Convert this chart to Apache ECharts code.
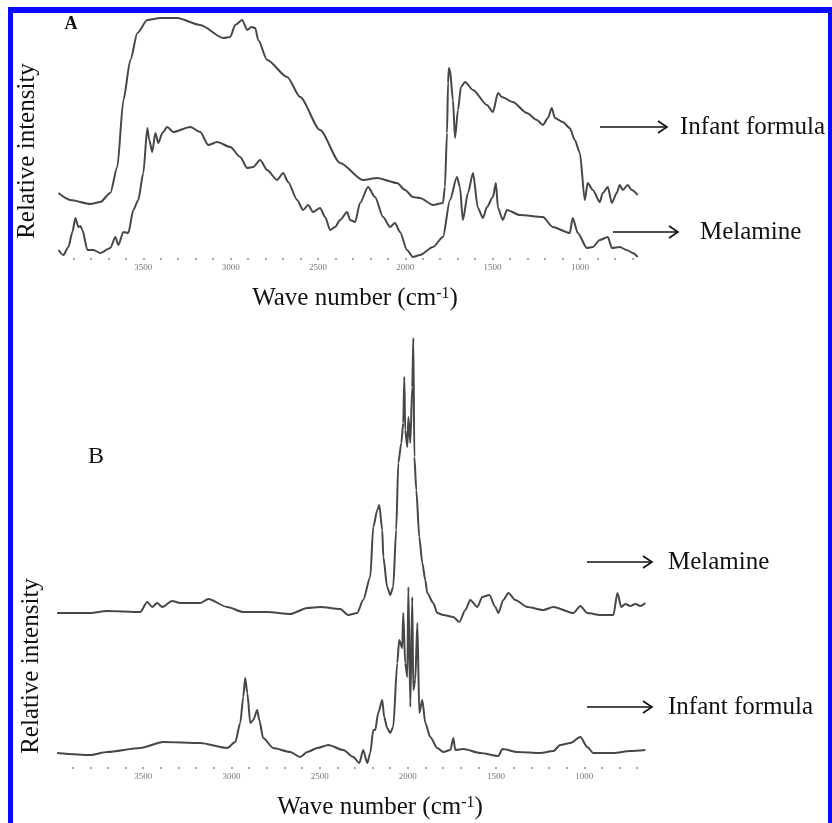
<!DOCTYPE html>
<html>
<head>
<meta charset="utf-8">
<script src="https://cdn.jsdelivr.net/npm/echarts@6/dist/echarts.min.js"></script>
<style>
html,body{margin:0;padding:0;background:#fff;}
#chart{width:832px;height:823px;}
</style>
</head>
<body>
<div id="chart"></div>
<script>
// ---- Data (wavenumber in cm-1, relative intensity in arbitrary units) ----
const tickLabelValues = [3500, 3000, 2500, 2000, 1500, 1000];
const tickDotValues = [3900,3800,3700,3600,3500,3400,3300,3200,3100,3000,2900,2800,2700,2600,2500,2400,2300,2200,2100,2000,1900,1800,1700,1600,1500,1400,1300,1200,1100,1000,900,800,700];

// Panel A – Infant formula
const aInfantX = [3986,3918,3803,3746,3689,3649,3614,3574,3534,3477,3403,3306,3174,3042,3002,2974,2934,2905,2882,2859,2842,2791,2676,2602,2488,2373,2242,2161,2047,2001,1956,1916,1841,1784,1773,1761,1755,1750,1744,1727,1715,1698,1681,1658,1612,1532,1498,1469,1447,1384,1304,1246,1212,1183,1161,1143,1098,1058,1029,1000,972,955,926,886,869,840,817,789,772,754,726,703,669];
const aInfantY = [65,58,54,56,65,91,158,198,225,238,240,240,233,220,221,233,238,228,231,230,218,198,181,161,128,95,78,80,75,68,61,60,53,55,71,125,175,190,188,158,120,148,171,176,168,153,146,165,161,156,145,138,133,140,150,140,136,130,118,105,58,75,68,56,65,71,55,65,73,68,73,68,63];

// Panel A – Melamine
const aMelX = [3986,3958,3929,3906,3889,3872,3860,3849,3820,3786,3746,3689,3660,3643,3614,3586,3557,3529,3500,3477,3466,3449,3431,3414,3391,3363,3328,3231,3174,3128,3077,3002,2945,2905,2871,2831,2791,2734,2699,2671,2619,2585,2556,2528,2488,2459,2430,2402,2373,2333,2316,2287,2259,2213,2173,2127,2087,2059,2030,1990,1956,1916,1841,1784,1744,1704,1687,1670,1641,1612,1584,1555,1532,1498,1481,1469,1441,1418,1344,1212,1155,1058,1041,1012,960,926,886,840,817,772,732,697,669];
const aMelY = [8,3,11,26,40,31,32,28,8,8,5,10,21,13,26,25,48,58,85,130,118,106,125,115,125,131,126,131,126,113,116,111,101,90,91,98,88,78,85,76,58,48,53,46,50,41,28,31,38,46,38,36,55,71,61,41,31,35,26,8,1,3,11,21,58,81,71,38,65,85,50,40,51,61,75,50,38,48,43,41,31,25,40,25,10,11,18,21,10,11,8,5,1];

// Panel B – Melamine
const bMelX = [3988,3801,3704,3517,3477,3449,3421,3392,3336,3290,3177,3131,3024,2933,2797,2667,2570,2496,2383,2338,2287,2253,2213,2196,2173,2162,2145,2139,2117,2100,2083,2066,2054,2037,2026,2020,2015,2003,1997,1986,1975,1969,1963,1952,1935,1918,1901,1890,1856,1833,1799,1742,1708,1674,1646,1606,1578,1538,1504,1487,1459,1430,1391,1323,1232,1175,1062,1022,983,909,835,812,790,767,739,710,682,654];
const bMelY = [154,154,156,155,165,160,164,160,166,164,164,168,160,155,155,153,159,160,158,152,154,167,190,240,257,262,237,210,180,172,180,237,304,324,344,390,337,320,350,324,380,429,310,277,230,204,187,174,164,154,152,150,145,157,167,160,170,172,160,154,167,174,167,160,157,160,154,161,154,152,152,174,160,163,161,163,161,164];

// Panel B – Infant formula
const bInfantX = [3988,3801,3704,3517,3387,3177,3024,2978,2950,2933,2922,2910,2893,2876,2854,2842,2820,2763,2667,2610,2570,2513,2451,2366,2309,2275,2253,2230,2213,2196,2185,2168,2145,2134,2117,2100,2083,2060,2049,2032,2026,2015,2003,1997,1986,1975,1969,1958,1946,1935,1918,1901,1873,1833,1799,1759,1742,1731,1686,1589,1487,1464,1379,1249,1175,1136,1079,1022,983,949,835,739,654];
const bInfantY = [14,12,15,19,25,24,19,25,44,70,89,74,44,47,57,47,29,19,15,10,15,19,22,17,10,4,17,4,14,37,37,54,67,50,39,34,40,104,127,119,154,104,90,180,60,170,77,87,144,54,67,44,30,19,15,17,29,17,18,14,11,18,15,14,16,22,24,30,20,14,14,16,17];

const pair = (xs, ys) => xs.map((x, i) => [x, ys[i]]);

const SERIF = '"Liberation Serif", "Times New Roman", serif';
const lineColor = '#474747';

function xAxisFor(gridIndex) {
  return {
    type: 'value', gridIndex: gridIndex, min: 650, max: 4000, inverse: true,
    axisLine: {show: false},
    splitLine: {show: false},
    axisTick: {show: true, customValues: tickDotValues, length: 2, lineStyle: {color: '#aaaaaa', width: 2}},
    axisLabel: {show: true, customValues: tickLabelValues, fontSize: 9, color: '#777', margin: 5, fontFamily: SERIF,
      formatter: v => String(Math.round(v))}
  };
}

function seriesFor(name, xi, xs, ys) {
  return {
    name: name, type: 'line', xAxisIndex: xi, yAxisIndex: xi,
    data: pair(xs, ys), showSymbol: false, smooth: 0.25, smoothMonotone: 'x',
    lineStyle: {color: lineColor, width: 2}, silent: true, animation: false
  };
}

function txt(x, y, text, size, opts) {
  opts = opts || {};
  return {
    type: 'text', x: x, y: y, rotation: opts.rotation || 0, z: 10,
    style: Object.assign({
      text: text, font: (opts.weight || 'normal') + ' ' + size + 'px ' + SERIF,
      fill: '#111', textAlign: opts.align || 'left', textVerticalAlign: 'middle',
      align: opts.align || 'left', verticalAlign: 'middle'
    }, opts.style || {})
  };
}

function arrow(x1, x2, y) {
  return {
    type: 'group', z: 10,
    children: [
      {type: 'line', shape: {x1: x1, y1: y, x2: x2, y2: y}, style: {stroke: '#111', lineWidth: 1.6}},
      {type: 'polyline', shape: {points: [[x2 - 9, y - 6], [x2, y], [x2 - 9, y + 6]]}, style: {stroke: '#111', lineWidth: 1.6, fill: null}}
    ]
  };
}

function waveTitle(cx, cy) {
  return {
    type: 'text', x: cx, y: cy, z: 10,
    style: {
      text: 'Wave number (cm{sup|-1})',
      font: 'normal 25px ' + SERIF, fill: '#111',
      textAlign: 'center', textVerticalAlign: 'middle', align: 'center', verticalAlign: 'middle',
      rich: {sup: {fontSize: 16, fontFamily: SERIF, verticalAlign: 'top', fill: '#111'}}
    }
  };
}

const chart = echarts.init(document.getElementById('chart'), null, {renderer: 'canvas'});
chart.setOption({
  backgroundColor: '#ffffff',
  animation: false,
  grid: [
    {left: 56, width: 585, top: 8, height: 250},
    {left: 55, width: 591, top: 327, height: 440}
  ],
  xAxis: [xAxisFor(0), xAxisFor(1)],
  yAxis: [
    {type: 'value', gridIndex: 0, min: 0, max: 250, show: false},
    {type: 'value', gridIndex: 1, min: 0, max: 440, show: false}
  ],
  series: [
    seriesFor('Infant formula (A)', 0, aInfantX, aInfantY),
    seriesFor('Melamine (A)', 0, aMelX, aMelY),
    seriesFor('Melamine (B)', 1, bMelX, bMelY),
    seriesFor('Infant formula (B)', 1, bInfantX, bInfantY)
  ],
  graphic: [
    txt(71, 24, 'A', 18, {weight: 'bold', align: 'center'}),
    txt(96, 457, 'B', 24, {align: 'center'}),
    txt(27, 151, 'Relative intensity', 25, {align: 'center', rotation: Math.PI / 2}),
    txt(31, 666, 'Relative intensity', 25, {align: 'center', rotation: Math.PI / 2}),
    waveTitle(355, 298),
    waveTitle(380, 807),
    arrow(600, 667, 127), txt(680, 127, 'Infant formula', 25),
    arrow(613, 678, 232), txt(700, 232, 'Melamine', 25),
    arrow(587, 652, 562), txt(668, 562, 'Melamine', 25),
    arrow(587, 652, 707), txt(668, 707, 'Infant formula', 25),
    {type: 'rect', z: 20, shape: {x: 8, y: 7, width: 824, height: 6}, style: {fill: '#0a0aff'}},
    {type: 'rect', z: 20, shape: {x: 8, y: 7, width: 5, height: 816}, style: {fill: '#0a0aff'}},
    {type: 'rect', z: 20, shape: {x: 828, y: 7, width: 4, height: 816}, style: {fill: '#0a0aff'}}
  ]
});
</script>
</body>
</html>
